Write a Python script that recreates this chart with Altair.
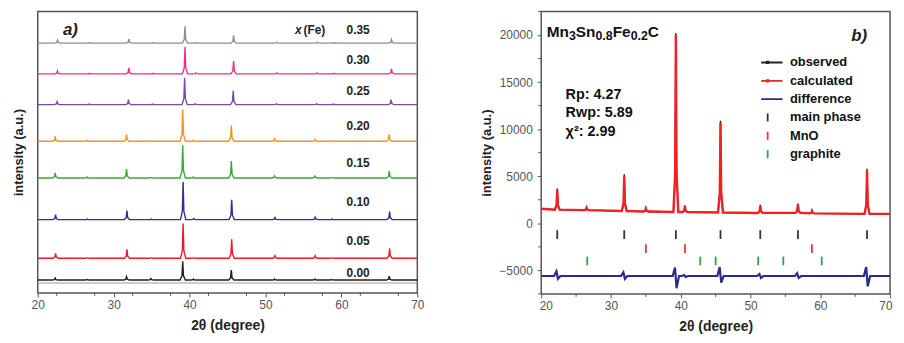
import altair as alt
import pandas as pd

FONT = "Liberation Sans"

# ---------------- Panel a: stacked XRD patterns ----------------
COMPOSITIONS = ["0.35", "0.30", "0.25", "0.20", "0.15", "0.10", "0.05", "0.00"]
COLORS_A = ["#8f8f8f", "#ec2f8c", "#7a4aa6", "#f7941d", "#3aaa35", "#2e3192", "#ed1c24", "#231f20"]
BASELINES_A = [252, 221, 190, 153, 116, 74, 35, 13]          # offset of each pattern (a.u.)
SHIFTS_A = [0.3, 0.3, 0.25, 0.0, 0.0, 0.05, 0.05, 0.0]        # peak shift (deg)
PEAK_POS_A = [22.3, 26.5, 31.7, 34.9, 39.1, 40.5, 45.5, 51.2, 56.5, 58.7, 66.3]
PEAK_H_A = [
    [3, 0.5, 4, 0.5, 17, 0.5, 8, 1, 1, 0.5, 3.5],
    [3, 0.5, 6, 0.5, 27, 1, 13, 1, 1, 0.5, 5],
    [3, 0.5, 5, 0.5, 27, 1, 14, 1, 1, 0.5, 5],
    [5, 1, 7, 0.5, 32, 1, 16, 2.5, 2, 0.5, 7],
    [5, 1, 9, 0.5, 33, 1, 17, 2, 2, 0.5, 7],
    [5, 0.5, 9, 0.5, 38, 1, 20, 2, 2.5, 0.5, 8],
    [5, 0.5, 9, 0.5, 35, 0.5, 19, 2.5, 2.5, 0.5, 10],
    [2, 0.5, 3.5, 1.5, 19, 1, 10, 1, 1, 0.5, 4],
]
LABEL_X_A = 62.2
LABEL_Y_A = [265, 235, 204, 168, 131, 92, 52, 20]
BOTTOM_LINE_A = [10]
TICKS_A = [20, 25, 30, 35, 40, 45, 50, 55, 60, 65, 70]
MINOR_A = [22.5, 27.5, 32.5, 37.5, 42.5, 47.5, 52.5, 57.5, 62.5, 67.5]

# ---------------- Panel b: Rietveld refinement ----------------
PEAK_POS_B = [22.3, 26.5, 31.9, 35.0, 39.3, 40.6, 45.7, 51.4, 56.8, 58.8, 66.7]
OBS_TOP_B = [3700, 1700, 5200, 1600, 20200, 1900, 10900, 1950, 2100, 1350, 5800]
CALC_TOP_B = [3500, 1650, 5000, 1550, 20000, 1850, 10700, 1850, 2000, 1300, 5600]
BG_B = [1450, 1400, 1300, 1250, 1200, 1200, 1150, 1100, 1100, 1050, 1000]
BG_START_B, BG_END_B = 1550, 1000
DIFF_BASE_B = -5600
DIFF_UP_B = [-5100, -5600, -5200, -5600, -4700, -5500, -4650, -5400, -5300, -5600, -4650]
DIFF_DOWN_B = [-5900, -5600, -5900, -5600, -6900, -5700, -6300, -5800, -5800, -5600, -6700]

PHASES = ["main phase", "MnO", "graphite"]
PHASE_POS = [
    [22.3, 31.9, 39.3, 45.7, 51.4, 56.8, 66.7],
    [35.0, 40.6, 58.8],
    [26.6, 42.8, 45.0, 51.1, 54.7, 60.2],
]
PHASE_Y = [-1200, -2700, -4000]

SERIES_B = ["observed", "calculated", "difference", "main phase", "MnO", "graphite"]
COLORS_B = ["#222222", "#e8262a", "#2b2a8f", "#333333", "#f0323c", "#2ca44a"]

TEXT_B = ["Rp: 4.27", "Rwp: 5.89", "χ²: 2.99"]
TEXT_B_X = [23.5, 23.5, 23.5]
TEXT_B_Y = [13600, 11700, 9700]
FORMULA_PARTS = ["Mn", "3", "Sn", "0.8", "Fe", "0.2", "C"]
FORMULA_X, FORMULA_Y = 20.8, 20300
TICKS_BX = [20, 30, 40, 50, 60, 70]
MINOR_BX = [25, 35, 45, 55, 65]
TICKS_BY = [-5000, 0, 5000, 10000, 15000, 20000]
MINOR_BY = [-7500, -2500, 2500, 7500, 12500, 17500, 22500]

# peak profile (style): offset in degrees, fraction of peak height
PROFILE = [(-0.35, 0.0), (-0.1, 0.22), (0.0, 1.0), (0.1, 0.22), (0.35, 0.0)]
DIFF_PROFILE = [(-0.45, "base"), (-0.12, "up"), (0.1, "down"), (0.45, "base")]

# ---------------- build tables ----------------
rows_a = []
for s, comp in enumerate(COMPOSITIONS):
    base = BASELINES_A[s]
    rows_a.append({"comp": comp, "x": 20.0, "y": base})
    for p, h in zip(PEAK_POS_A, PEAK_H_A[s]):
        c = p + SHIFTS_A[s]
        for dx, f in PROFILE:
            rows_a.append({"comp": comp, "x": c + dx, "y": base + f * h})
    rows_a.append({"comp": comp, "x": 70.0, "y": base})
df_a = pd.DataFrame(rows_a)
df_a_lab = pd.DataFrame({"x": [LABEL_X_A] * len(COMPOSITIONS), "y": LABEL_Y_A, "t": COMPOSITIONS})

def profile_rows(name, tops):
    r = [{"s": name, "x": 20.0, "y": BG_START_B}]
    for p, top, bg in zip(PEAK_POS_B, tops, BG_B):
        for dx, f in PROFILE:
            r.append({"s": name, "x": p + dx, "y": bg + f * (top - bg)})
    r.append({"s": name, "x": 70.0, "y": BG_END_B})
    return r

df_obs = pd.DataFrame(profile_rows("observed", OBS_TOP_B))
df_calc = pd.DataFrame(profile_rows("calculated", CALC_TOP_B))
rows_d = [{"x": 20.0, "y": DIFF_BASE_B}]
for p, up, dn in zip(PEAK_POS_B, DIFF_UP_B, DIFF_DOWN_B):
    vals = {"base": DIFF_BASE_B, "up": up, "down": dn}
    for dx, k in DIFF_PROFILE:
        rows_d.append({"x": p + dx, "y": vals[k]})
rows_d.append({"x": 70.0, "y": DIFF_BASE_B})
df_diff = pd.DataFrame(rows_d)

rows_t = []
for ph, pos, yv in zip(PHASES, PHASE_POS, PHASE_Y):
    for p in pos:
        rows_t.append({"s": ph, "x": p, "y": yv})
df_ticks = pd.DataFrame(rows_t)

TICK_COLOR = "#555555"
axis_common = dict(labelFont=FONT, labelFontSize=12, labelColor="#555555", titleFont=FONT,
                   titleFontWeight="bold", titleColor="#222222", tickColor=TICK_COLOR,
                   domain=False, grid=False, labelOverlap=False)


def minor_x(values, height):
    return alt.Chart(pd.DataFrame({"m": values})).mark_rule(color=TICK_COLOR, strokeWidth=1).encode(
        x="m:Q", y=alt.value(height), y2=alt.value(height + 3))


def minor_y(values):
    return alt.Chart(pd.DataFrame({"m": values})).mark_rule(color=TICK_COLOR, strokeWidth=1).encode(
        y="m:Q", x=alt.value(0), x2=alt.value(-3))

# ---------------- panel a ----------------
HA, WA = 284, 383
xa = alt.X("x:Q", scale=alt.Scale(domain=[20, 70], nice=False, zero=False),
           axis=alt.Axis(title="2θ (degree)", values=TICKS_A, tickSize=4, labelPadding=3,
                         labelFlush=False, titleFontSize=14, titlePadding=8, **axis_common))
ya = alt.Y("y:Q", scale=alt.Scale(domain=[0, 284], nice=False, zero=False),
           axis=alt.Axis(title="intensity (a.u.)", labels=False, ticks=False, titleFontSize=13,
                         titlePadding=12, **axis_common))

lines_a = alt.Chart(df_a).mark_line(strokeWidth=1.4).encode(
    x=xa, y=ya,
    color=alt.Color("comp:N", scale=alt.Scale(domain=COMPOSITIONS, range=COLORS_A), legend=None),
    detail="comp:N",
)
bottom_a = alt.Chart(pd.DataFrame({"y": BOTTOM_LINE_A})).mark_rule(color="#999999", strokeWidth=1).encode(y="y:Q")
labels_a = alt.Chart(df_a_lab).mark_text(font=FONT, fontSize=12, fontWeight="bold", color="#222222").encode(
    x="x:Q", y="y:Q", text="t:N")
head_a = alt.Chart(pd.DataFrame({"x": [24.3], "y": [265], "t": ["a)"]})).mark_text(
    font=FONT, fontSize=17, fontWeight="bold", fontStyle="italic", color="#222222").encode(
    x="x:Q", y="y:Q", text="t:N")
xfe_a = alt.Chart(pd.DataFrame({"x": [53.9], "y": [265], "t": ["x"]})).mark_text(
    font=FONT, fontSize=12, fontWeight="bold", fontStyle="italic", color="#222222", align="left").encode(
    x="x:Q", y="y:Q", text="t:N")
fe_a = alt.Chart(pd.DataFrame({"x": [55.0], "y": [265], "t": ["(Fe)"]})).mark_text(
    font=FONT, fontSize=12, fontWeight="bold", color="#222222", align="left").encode(
    x="x:Q", y="y:Q", text="t:N")

panel_a = alt.layer(bottom_a, lines_a, labels_a, head_a, xfe_a, fe_a, minor_x(MINOR_A, HA)).properties(
    width=WA, height=HA)

# ---------------- panel b ----------------
HB, WB = 285, 352
xb = alt.X("x:Q", scale=alt.Scale(domain=[20, 70], nice=False, zero=False),
           axis=alt.Axis(title="2θ (degree)", values=TICKS_BX, tickSize=4, labelPadding=3,
                         labelFlush=True, labelFlushOffset=2,
                         titleFontSize=14, titlePadding=8, **axis_common))
yb = alt.Y("y:Q", scale=alt.Scale(domain=[-7500, 22500], nice=False, zero=False),
           axis=alt.Axis(title="intensity (a.u.)", values=TICKS_BY, tickSize=4, labelPadding=5,
                         titleFontSize=13, titlePadding=5, format="d", **axis_common))

obs_b = alt.Chart(df_obs).mark_line(color="#111111", strokeWidth=1.3).encode(x=xb, y=yb)
calc_b = alt.Chart(df_calc).mark_line(color="#ee2222", strokeWidth=2.4).encode(x="x:Q", y="y:Q")
diff_b = alt.Chart(df_diff).mark_line(color="#2b2a8f", strokeWidth=2.2).encode(x="x:Q", y="y:Q")

SHAPES_B = [
    "M-3,0L3,0M-0.15,-0.15L0.15,-0.15L0.15,0.15L-0.15,0.15Z",
    "M-3,0L3,0M-0.15,-0.15L0.15,-0.15L0.15,0.15L-0.15,0.15Z",
    "M-3,0L3,0",
    "M0,-0.8L0,0.8",
    "M0,-0.8L0,0.8",
    "M0,-0.8L0,0.8",
]
ticks_b = alt.Chart(df_ticks).mark_point(filled=False, size=121, strokeWidth=1.8, opacity=1).encode(
    x="x:Q", y="y:Q",
    color=alt.Color("s:N", scale=alt.Scale(domain=SERIES_B, range=COLORS_B),
                    legend=alt.Legend(title=None, orient="none", legendX=222, legendY=45,
                                      labelFont=FONT, labelFontSize=13, labelFontWeight="bold",
                                      labelColor="#111111", labelOffset=16, rowPadding=4.5,
                                      clipHeight=13, padding=0, symbolStrokeWidth=1.8)),
    shape=alt.Shape("s:N", scale=alt.Scale(domain=SERIES_B, range=SHAPES_B)),
)

text_b = alt.Chart(pd.DataFrame({"x": TEXT_B_X, "y": TEXT_B_Y, "t": TEXT_B})).mark_text(
    font=FONT, fontSize=14.5, fontWeight="bold", color="#111111", align="left").encode(
    x="x:Q", y="y:Q", text="t:N")

# chemical formula with subscripts, composed of text pieces (font sizes / offsets are style)
formula_layers = []
offset = 0.0
CHAR_W = {"M": 0.833, "n": 0.611, "S": 0.667, "F": 0.611, "e": 0.556, "C": 0.722, ".": 0.278}
for i, part in enumerate(FORMULA_PARTS):
    sub = i % 2 == 1
    fs = 12.5 if sub else 15.5
    formula_layers.append(
        alt.Chart(pd.DataFrame({"x": [FORMULA_X], "y": [FORMULA_Y], "t": [part]})).mark_text(
            font=FONT, fontSize=fs, fontWeight="bold", color="#111111", align="left",
            dx=offset, dy=4 if sub else 0).encode(x="x:Q", y="y:Q", text="t:N"))
    offset += sum(CHAR_W.get(ch, 0.556) for ch in part) * fs

head_b = alt.Chart(pd.DataFrame({"x": [66.7], "y": [19900], "t": ["b)"]})).mark_text(
    font=FONT, fontSize=17, fontWeight="bold", fontStyle="italic", color="#222222", align="right").encode(
    x="x:Q", y="y:Q", text="t:N")

panel_b = alt.layer(obs_b, calc_b, diff_b, ticks_b, text_b, head_b, *formula_layers,
                    minor_x(MINOR_BX, HB), minor_y(MINOR_BY)).properties(width=WB, height=HB)

chart = alt.hconcat(panel_a, panel_b, spacing=55).resolve_scale(
    color="independent", shape="independent"
).properties(
    padding={"left": 4, "top": 0, "right": 0, "bottom": 0}
).configure_view(stroke="#555555", strokeWidth=1.5)

chart.save("out.html", embed_options={"renderer": "svg", "actions": False})
